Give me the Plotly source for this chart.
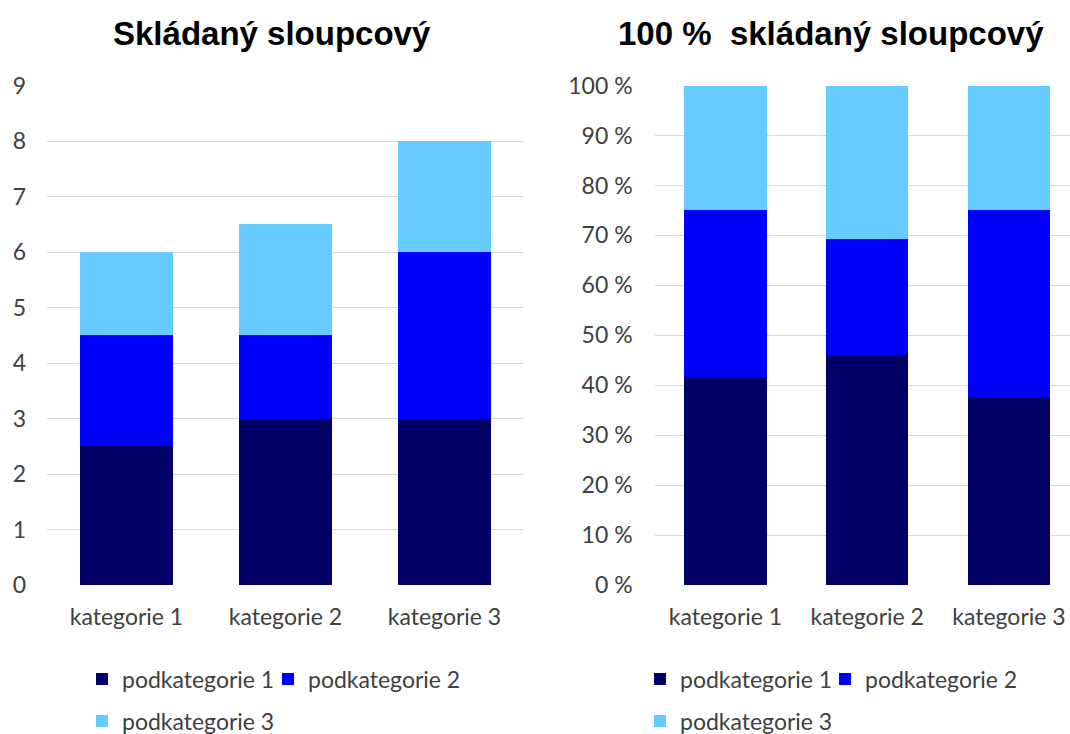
import plotly.graph_objects as go

categories = ["kategorie 1", "kategorie 2", "kategorie 3"]
series_names = ["podkategorie 1", "podkategorie 2", "podkategorie 3"]
sub1 = [2.5, 3, 3]
sub2 = [2, 1.5, 3]
sub3 = [1.5, 2, 2]
colors = ["#000066", "#0000FF", "#66CCFF"]
left_ticks = [0, 1, 2, 3, 4, 5, 6, 7, 8, 9]
right_ticks = [0, 10, 20, 30, 40, 50, 60, 70, 80, 90, 100]
right_tick_labels = [f"{v} %" for v in right_ticks]

series = [sub1, sub2, sub3]
totals = [a + b + c for a, b, c in zip(sub1, sub2, sub3)]
pct = [[v / t * 100 for v, t in zip(s, totals)] for s in series]

W, H = 1070, 734
TICKFONT = dict(family="Lato", size=23, color="#404040")

fig = go.Figure()
left_leg = ["legend", "legend2", "legend3"]
right_leg = ["legend4", "legend5", "legend6"]
for i in range(3):
    fig.add_trace(go.Bar(x=categories, y=series[i], name=series_names[i],
                         marker=dict(color=colors[i], line=dict(width=0)),
                         xaxis="x", yaxis="y", legend=left_leg[i]))
for i in range(3):
    fig.add_trace(go.Bar(x=categories, y=pct[i], name=series_names[i],
                         marker=dict(color=colors[i], line=dict(width=0)),
                         xaxis="x2", yaxis="y2", legend=right_leg[i]))

ydom = [(H - 585.2) / H, (H - 85.5) / H]
fig.update_layout(
    width=W, height=H,
    margin=dict(l=0, r=0, t=0, b=0, autoexpand=False),
    paper_bgcolor="white", plot_bgcolor="white",
    barmode="stack", bargap=0.42,
    showlegend=True,
    xaxis=dict(domain=[47 / W, 524 / W], range=[-0.5, 2.5], showgrid=False,
               showline=False, ticks="", tickfont=TICKFONT, ticklabelstandoff=16,
               fixedrange=True),
    yaxis=dict(domain=ydom, range=[0, 9], tickvals=left_ticks, showgrid=True,
               gridcolor="#D9D9D9", gridwidth=1, zeroline=False, showline=False,
               ticks="", tickfont=TICKFONT, ticklabelstandoff=20),
    xaxis2=dict(domain=[654.6 / W, 1.0], range=[-0.5, -0.5 + (W - 654.6) / 141.75],
                showgrid=False, showline=False, ticks="", tickfont=TICKFONT,
                ticklabelstandoff=16, anchor="y2"),
    yaxis2=dict(domain=ydom, range=[0, 100], tickvals=right_ticks,
                ticktext=right_tick_labels, showgrid=True, gridcolor="#D9D9D9",
                gridwidth=1, zeroline=False, showline=False, ticks="",
                tickfont=TICKFONT, ticklabelstandoff=21, anchor="x2"),
)

legfont = dict(family="Lato", size=23, color="#404040")
common = dict(orientation="h", xanchor="left", yanchor="middle", xref="paper",
              yref="paper", font=legfont, bgcolor="rgba(0,0,0,0)",
              itemclick=False, itemdoubleclick=False)
row1 = (H - 679) / H
row2 = (H - 721) / H
fig.update_layout(
    legend=dict(x=82 / W, y=row1, **common),
    legend2=dict(x=268 / W, y=row1, **common),
    legend3=dict(x=82 / W, y=row2, **common),
    legend4=dict(x=640 / W, y=row1, **common),
    legend5=dict(x=825 / W, y=row1, **common),
    legend6=dict(x=640 / W, y=row2, **common),
)

titlefont = dict(family="Liberation Sans, Arial", size=33, color="black")
fig.add_annotation(text="<b>Skládaný sloupcový</b>", x=272 / W, y=(H - 33) / H,
                   xref="paper", yref="paper", showarrow=False, font=titlefont,
                   xanchor="center", yanchor="middle")
fig.add_annotation(text="<b>100 %  skládaný sloupcový</b>", x=831 / W, y=(H - 33) / H,
                   xref="paper", yref="paper", showarrow=False, font=titlefont,
                   xanchor="center", yanchor="middle")

fig.write_html("out.html", config={"displayModeBar": False},
               post_script="document.body.style.margin='0';document.body.style.overflow='hidden';")
